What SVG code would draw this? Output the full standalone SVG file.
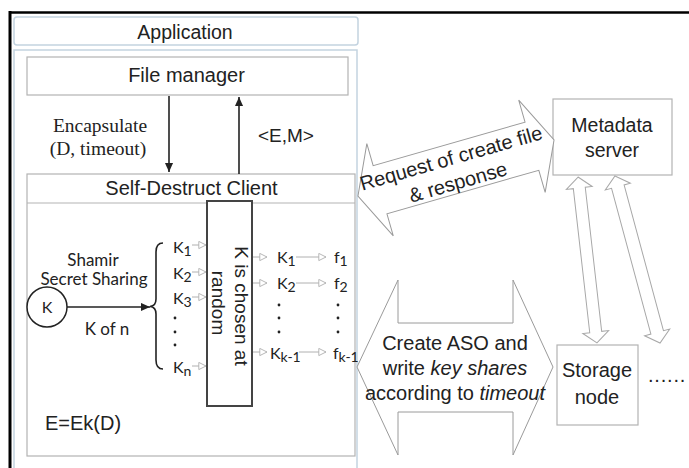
<svg xmlns="http://www.w3.org/2000/svg" width="689" height="468" viewBox="0 0 689 468">
<defs>
<style>
.sans{font-family:"Liberation Sans",Arial,sans-serif;fill:#222}
.serif{font-family:"Liberation Serif","Times New Roman",serif;fill:#222}
.cal{font-family:Lato,"Open Sans",sans-serif;fill:#222}
.box{fill:#fff;stroke:#b3b3b3;stroke-width:1.2}
.panel{fill:none;stroke:#c3d3e0;stroke-width:1.5}
.big{fill:#fff;stroke:#9a9a9a;stroke-width:1}
.thin{fill:#fff;stroke:#a8a8a8;stroke-width:1}
.blk{stroke:#222;stroke-width:1.6;fill:none}
.small{stroke:#b0b0b0;stroke-width:1;fill:none;marker-end:url(#hollow)}
.dot{fill:#222}
</style>
<marker id="hollow" viewBox="0 0 10 10" refX="9" refY="5" markerWidth="9" markerHeight="9" markerUnits="userSpaceOnUse" orient="auto">
<path d="M1,1 L9,5 L1,9 Z" fill="#fff" stroke="#b0b0b0" stroke-width="1"/>
</marker>
<marker id="solid" viewBox="0 0 10 10" refX="10" refY="5" markerWidth="10" markerHeight="9" markerUnits="userSpaceOnUse" orient="auto">
<path d="M0,0.5 L10,5 L0,9.5 Z" fill="#222"/>
</marker>
</defs>
<rect width="689" height="468" fill="#fff"/>
<!-- outer frame -->
<line x1="9" y1="12.5" x2="689" y2="12.5" stroke="#000" stroke-width="2.5"/>
<line x1="10" y1="11" x2="10" y2="468" stroke="#000" stroke-width="3"/>

<g id="application">
<rect class="panel" x="14" y="17" width="344" height="28" rx="3"/>
<text class="sans" x="185" y="39" font-size="19.5" text-anchor="middle">Application</text>
</g>
<rect id="panel" class="panel" x="14" y="50" width="343" height="430"/>

<g id="file-manager">
<rect class="box" x="27" y="57" width="321" height="38"/>
<text class="sans" x="186.5" y="82" font-size="20" text-anchor="middle">File manager</text>
</g>

<g id="self-destruct-client">
<rect class="box" x="27" y="174" width="328" height="282"/>
<line x1="27" y1="203" x2="355" y2="203" stroke="#b3b3b3" stroke-width="1.2"/>
<text class="sans" x="191.5" y="195" font-size="20" text-anchor="middle">Self-Destruct Client</text>
<text class="sans" x="45" y="430" font-size="20">E=Ek(D)</text>
</g>

<g id="key-circle">
<circle cx="47" cy="307" r="20" fill="#fff" stroke="#222" stroke-width="1.5"/>
<text class="cal" x="47" y="313" font-size="16" text-anchor="middle">K</text>
</g>

<g id="shamir-labels">
<text class="cal" x="93" y="266" font-size="17" text-anchor="middle">Shamir</text>
<text class="cal" x="94" y="285" font-size="17" text-anchor="middle">Secret Sharing</text>
<text class="cal" x="107" y="335" font-size="17" text-anchor="middle">K of n</text>
</g>

<g id="random-box">
<rect x="207" y="201" width="45" height="205" fill="#fff" stroke="#444" stroke-width="2"/>
<text class="sans" font-size="19" text-anchor="middle" transform="translate(235,306) rotate(90)">K is chosen at</text>
<text class="sans" font-size="19" text-anchor="middle" transform="translate(212,303) rotate(90)">random</text>
</g>

<g id="key-shares-left">
<text class="cal" x="173" y="253" font-size="16">K<tspan dy="3" font-size="14">1</tspan></text>
<text class="cal" x="173" y="279" font-size="16">K<tspan dy="3" font-size="14">2</tspan></text>
<text class="cal" x="173" y="304" font-size="16">K<tspan dy="3" font-size="14">3</tspan></text>
<circle class="dot" cx="175" cy="318" r="1.4"/>
<circle class="dot" cx="175" cy="332" r="1.4"/>
<circle class="dot" cx="175" cy="345" r="1.4"/>
<text class="cal" x="173" y="373" font-size="16">K<tspan dy="3" font-size="14">n</tspan></text>
</g>

<g id="key-shares-right">
<text class="cal" x="277" y="263" font-size="16">K<tspan dy="3" font-size="14">1</tspan></text>
<text class="cal" x="277" y="289" font-size="16">K<tspan dy="3" font-size="14">2</tspan></text>
<circle class="dot" cx="279" cy="305" r="1.4"/>
<circle class="dot" cx="279" cy="318" r="1.4"/>
<circle class="dot" cx="279" cy="332" r="1.4"/>
<text class="cal" x="270" y="359" font-size="16">K<tspan dy="3" font-size="14">k-1</tspan></text>
<text class="cal" x="334" y="263" font-size="16">f<tspan dy="3" font-size="14">1</tspan></text>
<text class="cal" x="334" y="289" font-size="16">f<tspan dy="3" font-size="14">2</tspan></text>
<circle class="dot" cx="338" cy="305" r="1.4"/>
<circle class="dot" cx="338" cy="318" r="1.4"/>
<circle class="dot" cx="338" cy="332" r="1.4"/>
<text class="cal" x="333" y="359" font-size="16">f<tspan dy="3" font-size="14">k-1</tspan></text>
</g>

<g id="metadata-server">
<rect class="box" x="553" y="99" width="119" height="76"/>
<text class="sans" x="612" y="132" font-size="19.5" text-anchor="middle">Metadata</text>
<text class="sans" x="612" y="157" font-size="19.5" text-anchor="middle">server</text>
</g>

<g id="storage-node">
<rect class="box" x="557" y="345" width="81" height="80"/>
<text class="sans" x="597" y="377" font-size="20" text-anchor="middle">Storage</text>
<text class="sans" x="597" y="404" font-size="20" text-anchor="middle">node</text>
</g>
<text id="ellipsis" class="sans" x="648" y="382" font-size="20" letter-spacing="0.8">......</text>

<g id="connectors">
<line class="blk" x1="169" y1="96" x2="169" y2="172" marker-end="url(#solid)"/>
<line class="blk" x1="239" y1="174" x2="239" y2="97" marker-end="url(#solid)"/>
<text class="serif" x="100" y="132" font-size="19.5" text-anchor="middle">Encapsulate</text>
<text class="serif" x="98" y="155" font-size="19.5" text-anchor="middle">(D, timeout)</text>
<text class="sans" x="258" y="142" font-size="19">&lt;E,M&gt;</text>

<line class="blk" x1="67" y1="307" x2="150" y2="307" marker-end="url(#solid)"/>
<path class="blk" d="M163,243 Q156,243 156,252 L156,299 Q156,306 150,306.5 Q156,307 156,314 L156,360 Q156,369 163,369"/>

<line class="small" x1="192" y1="245" x2="206" y2="245"/>
<line class="small" x1="192" y1="272" x2="206" y2="272"/>
<line class="small" x1="192" y1="297" x2="206" y2="297"/>
<line class="small" x1="192" y1="366" x2="206" y2="366"/>
<line class="small" x1="253" y1="257" x2="267" y2="257"/>
<line class="small" x1="253" y1="283" x2="267" y2="283"/>
<line class="small" x1="253" y1="352" x2="267" y2="352"/>
<line class="small" x1="296" y1="257" x2="326" y2="257"/>
<line class="small" x1="296" y1="283" x2="326" y2="283"/>
<line class="small" x1="299" y1="352" x2="326" y2="352"/>

<g transform="translate(456,168) rotate(-16)">
<polygon class="big" points="-102,0 -79,-48 -79,-25 79,-25 79,-48 102,0 79,48 79,25 -79,25 -79,48"/>
<text class="sans" x="-2" y="-4" font-size="20" text-anchor="middle">Request of create file</text>
<text class="sans" x="-2" y="21" font-size="20" text-anchor="middle">&amp; response</text>
</g>

<polygon class="big" points="357,367 398,280 398,323 513,323 513,280 553,367 513,455 513,412 398,412 398,455"/>
<text class="sans" x="455" y="350" font-size="20" text-anchor="middle">Create ASO and</text>
<text class="sans" x="455" y="375" font-size="20" text-anchor="middle">write <tspan font-style="italic">key shares</tspan></text>
<text class="sans" x="455" y="400" font-size="20" text-anchor="middle">according to <tspan font-style="italic">timeout</tspan></text>

<polygon class="thin" transform="translate(587.5,260) rotate(83.5)" points="-83.5,0 -72.5,-13 -72.5,-6 72.5,-6 72.5,-13 83.5,0 72.5,13 72.5,6 -72.5,6 -72.5,13"/>
<polygon class="thin" transform="translate(637.5,259.5) rotate(74.9)" points="-86.5,0 -75.5,-13 -75.5,-6.5 75.5,-6.5 75.5,-13 86.5,0 75.5,13 75.5,6.5 -75.5,6.5 -75.5,13"/>
</g>
</svg>
